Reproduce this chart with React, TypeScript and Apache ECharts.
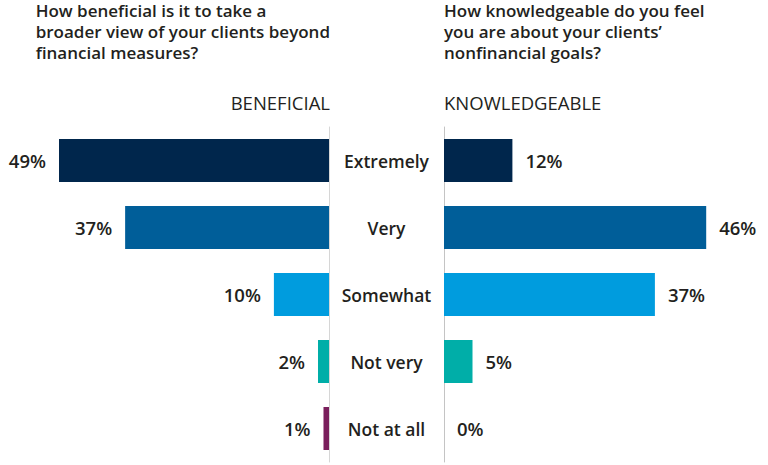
import React, { useEffect, useRef } from "react";
import * as echarts from "echarts";

const categories = ["Extremely", "Very", "Somewhat", "Not very", "Not at all"];
const beneficialValues = [49, 37, 10, 2, 1];
const knowledgeableValues = [12, 46, 37, 5, 0];
const barColors = ["#00264c", "#005e99", "#009cde", "#00aea8", "#7a1f5c"];
const leftTitle = ["How beneficial is it to take a", "broader view of your clients beyond", "financial measures?"];
const rightTitle = ["How knowledgeable do you feel", "you are about your clients\u2019", "nonfinancial goals?"];
const leftHeader = "BENEFICIAL";
const rightHeader = "KNOWLEDGEABLE";

const FONT = "'Open Sans', 'Noto Sans', sans-serif";
const TEXT = "#231f20";

export default function App() {
  const ref = useRef<HTMLDivElement>(null);
  useEffect(() => {
    if (!ref.current) return;
    const chart = echarts.init(ref.current, null, { renderer: "svg" });
    const mk = (vals: number[]) =>
      vals.map((v, i) => ({ value: v, itemStyle: { color: barColors[i] } }));
    const labelStyle = {
      show: true,
      formatter: "{c}%",
      fontFamily: FONT,
      fontSize: 18.5,
      fontWeight: 600 as any,
      color: TEXT,
      distance: 13,
    };
    chart.setOption({
      animation: false,
      grid: [
        { left: 53.5, width: 275.5, top: 127, height: 335 },
        { left: 444, width: 285, top: 127, height: 335 },
      ],
      xAxis: [
        { gridIndex: 0, type: "value", min: 0, max: 50, inverse: true, show: false },
        { gridIndex: 1, type: "value", min: 0, max: 50, show: false },
      ],
      yAxis: [
        {
          gridIndex: 0,
          type: "category",
          data: categories,
          inverse: true,
          position: "right",
          axisLine: { show: true, lineStyle: { color: "#d6d6d6", width: 1 } },
          axisTick: { show: false },
          axisLabel: { show: false },
        },
        {
          gridIndex: 1,
          type: "category",
          data: categories,
          inverse: true,
          position: "left",
          axisLine: { show: true, lineStyle: { color: "#c4c4c4", width: 1 } },
          axisTick: { show: false },
          axisLabel: {
            show: true,
            align: "center",
            margin: 57.5,
            fontFamily: FONT,
            fontSize: 17.5,
            fontWeight: 600 as any,
            color: TEXT,
          },
        },
      ],
      series: [
        {
          type: "bar",
          xAxisIndex: 0,
          yAxisIndex: 0,
          data: mk(beneficialValues),
          barWidth: 43,
          label: { ...labelStyle, position: "left" },
        },
        {
          type: "bar",
          xAxisIndex: 1,
          yAxisIndex: 1,
          data: mk(knowledgeableValues),
          barWidth: 43,
          label: { ...labelStyle, position: "right" },
        },
      ],
      graphic: [
        {
          type: "text",
          right: 768 - 330,
          top: 0,
          style: {
            text: leftTitle.join("\n"),
            align: "right",
            fontFamily: FONT,
            fontSize: 17,
            fontWeight: 600,
            lineHeight: 21,
            fill: TEXT,
          },
        },
        {
          type: "text",
          left: 444,
          top: 0,
          style: {
            text: rightTitle.join("\n"),
            align: "left",
            fontFamily: FONT,
            fontSize: 17,
            fontWeight: 600,
            lineHeight: 21,
            fill: TEXT,
          },
        },
        {
          type: "text",
          right: 768 - 330,
          top: 93,
          style: { text: leftHeader, fontFamily: FONT, fontSize: 18.5, fill: TEXT },
        },
        {
          type: "text",
          left: 444,
          top: 93,
          style: { text: rightHeader, fontFamily: FONT, fontSize: 18.5, fill: TEXT },
        },
      ],
    });
    return () => chart.dispose();
  }, []);
  return (
    <div
      ref={ref}
      style={{ position: "fixed", left: 0, top: 0, width: 768, height: 465, background: "#fff" }}
    />
  );
}
